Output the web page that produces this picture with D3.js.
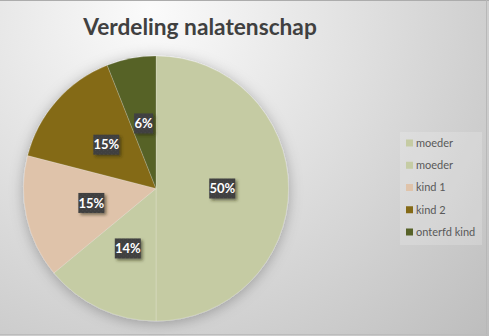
<!DOCTYPE html>
<html>
<head>
<meta charset="utf-8">
<script src="https://cdn.jsdelivr.net/npm/d3@7/dist/d3.min.js"></script>
<style>
  html, body { margin: 0; padding: 0; background: #fff; }
  svg { display: block; }
</style>
</head>
<body>
<svg id="chart" width="489" height="336"></svg>
<script>
// Estate distribution (share per heir, percent)
const categories = ["moeder", "moeder", "kind 1", "kind 2", "onterfd kind"];
const shares = [50, 14, 15, 15, 6];
const colors = ["#c5cba3", "#c5cca4", "#dfc3aa", "#846a17", "#576228"];
const title = "Verdeling nalatenschap";

const W = 489, H = 336;
const svg = d3.select("#chart");
const defs = svg.append("defs");

// Chart-area background: soft radial gradient, light at the top
const bg = defs.append("radialGradient").attr("id", "bg")
  .attr("gradientUnits", "userSpaceOnUse")
  .attr("cx", 150).attr("cy", 10).attr("r", 470);
bg.append("stop").attr("offset", "0%").attr("stop-color", "#fbfbfb");
bg.append("stop").attr("offset", "45%").attr("stop-color", "#e0e0e0");
bg.append("stop").attr("offset", "100%").attr("stop-color", "#bdbdbd");

svg.append("rect").attr("width", W).attr("height", H).attr("fill", "url(#bg)");
// frame lines
svg.append("line").attr("x1", 0).attr("x2", W).attr("y1", 0.5).attr("y2", 0.5)
  .attr("stroke", "#acacac");
svg.append("line").attr("x1", 486.5).attr("x2", 486.5).attr("y1", 0).attr("y2", H)
  .attr("stroke", "#b8b8b8");
svg.append("line").attr("x1", 0).attr("x2", W).attr("y1", 334.5).attr("y2", 334.5)
  .attr("stroke", "#bcbcbc");

// Filters: pie shadow and label box shadow
const pieShadow = defs.append("filter").attr("id", "pieShadow")
  .attr("x", "-20%").attr("y", "-20%").attr("width", "140%").attr("height", "140%");
pieShadow.append("feDropShadow").attr("dx", 0).attr("dy", 2)
  .attr("stdDeviation", 7).attr("flood-color", "#000").attr("flood-opacity", 0.28);

const boxShadow = defs.append("filter").attr("id", "boxShadow")
  .attr("x", "-30%").attr("y", "-30%").attr("width", "160%").attr("height", "160%");
boxShadow.append("feDropShadow").attr("dx", 2).attr("dy", 2)
  .attr("stdDeviation", 1.4).attr("flood-color", "#2a2a10").attr("flood-opacity", 0.55);

// Dotted texture for the label boxes
const pat = defs.append("pattern").attr("id", "dots")
  .attr("width", 4).attr("height", 4).attr("patternUnits", "userSpaceOnUse");
pat.append("rect").attr("width", 4).attr("height", 4).attr("fill", "#3f3f3f");
pat.append("rect").attr("x", 1).attr("y", 1).attr("width", 1).attr("height", 1).attr("fill", "#515151");
pat.append("rect").attr("x", 3).attr("y", 3).attr("width", 1).attr("height", 1).attr("fill", "#4a4a4a");

// Title
svg.append("text")
  .attr("x", 200).attr("y", 35)
  .attr("text-anchor", "middle")
  .attr("font-family", "Lato, 'Open Sans', sans-serif")
  .attr("font-weight", "bold")
  .attr("font-size", 22.7)
  .attr("fill", "#404040")
  .text(title);

// Pie
const cx = 156, cy = 188.5, R = 132.5;
const data = categories.map((c, i) => ({ name: c, value: shares[i], color: colors[i] }));
const pie = d3.pie().value(d => d.value).sort(null);
const arcs = pie(data);
const arc = d3.arc().innerRadius(0).outerRadius(R);
const labelArc = d3.arc().innerRadius(R * 0.5).outerRadius(R * 0.5);

const g = svg.append("g").attr("transform", `translate(${cx},${cy})`);
g.append("g").attr("filter", "url(#pieShadow)")
  .selectAll("path").data(arcs).join("path")
  .attr("d", arc)
  .attr("fill", d => d.data.color)
  .attr("stroke", "rgba(255,255,255,0.25)")
  .attr("stroke-width", 0.75);

// Data labels
const fmt = d => Math.round(d.data.value) + "%";
const labels = g.append("g").selectAll("g").data(arcs).join("g")
  .attr("transform", d => `translate(${labelArc.centroid(d)})`);
labels.append("rect")
  .attr("x", d => -(fmt(d).length * 7 + 5) / 2)
  .attr("y", -10)
  .attr("width", d => fmt(d).length * 7 + 5)
  .attr("height", 20)
  .attr("fill", "url(#dots)")
  .attr("filter", "url(#boxShadow)");
labels.append("text")
  .attr("text-anchor", "middle")
  .attr("dy", "0.36em")
  .attr("font-family", "Lato, 'Open Sans', sans-serif")
  .attr("font-weight", "bold")
  .attr("font-size", 13)
  .attr("fill", "#ffffff")
  .text(fmt);

// Legend
const lg = svg.append("g");
lg.append("rect").attr("x", 400).attr("y", 132).attr("width", 82).attr("height", 113)
  .attr("fill", "#ffffff").attr("fill-opacity", 0.18);
const y = d3.scalePoint().domain(d3.range(categories.length)).range([143, 232]);
const items = lg.selectAll("g.item").data(data).join("g")
  .attr("class", "item")
  .attr("transform", (d, i) => `translate(406,${y(i)})`);
items.append("rect").attr("x", 0).attr("y", -3.5).attr("width", 7).attr("height", 7)
  .attr("fill", d => d.color);
items.append("text").attr("x", 10).attr("dy", "0.35em")
  .attr("font-family", "Lato, 'Open Sans', sans-serif")
  .attr("font-size", 11)
  .attr("fill", "#595959")
  .text(d => d.name);
</script>
</body>
</html>
